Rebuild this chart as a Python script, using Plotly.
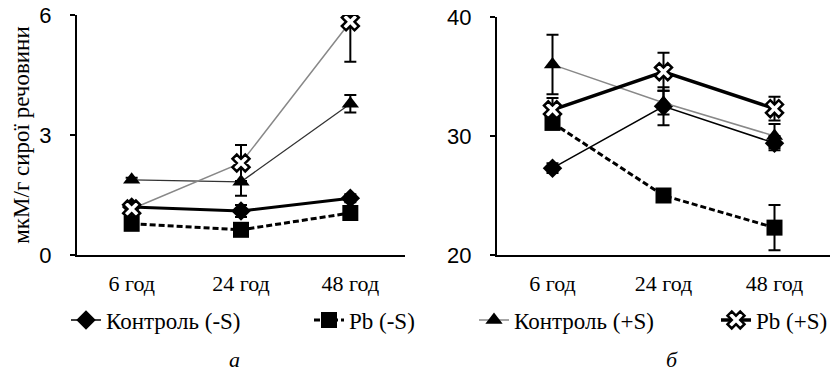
import plotly.graph_objects as go

times = ["6 год", "24 год", "48 год"]
names = ["Контроль (-S)", "Pb (-S)", "Контроль (+S)", "Pb (+S)"]

# panel а (mkM/g)
a_ctrl_minus = [1.2, 1.1, 1.42]
a_ctrl_minus_err = [0.1, 0.15, 0.1]
a_pb_minus = [0.78, 0.63, 1.05]
a_pb_minus_err = [0.08, 0.08, 0.1]
a_ctrl_plus = [1.88, 1.83, 3.78]
a_ctrl_plus_err = [0.05, 0.35, 0.22]
a_pb_plus = [1.15, 2.3, 5.83]
a_pb_plus_err = [0.1, 0.45, 1.0]

# panel б
b_ctrl_minus = [27.3, 32.5, 29.4]
b_ctrl_minus_err = [0.4, 1.6, 0.6]
b_pb_minus = [31.1, 25.0, 22.3]
b_pb_minus_err = [0.5, 0.3, 1.9]
b_ctrl_plus = [36.0, 32.8, 30.0]
b_ctrl_plus_err = [2.5, 1.0, 1.0]
b_pb_plus = [32.2, 35.4, 32.3]
b_pb_plus_err = [1.0, 1.6, 1.0]

W, H = 830, 379
SERIF = "Liberation Serif"
SANS = "Liberation Sans"

markers = [
    dict(symbol="diamond", size=15, color="black"),
    dict(symbol="square", size=16, color="black"),
    dict(symbol="triangle-up", size=15, color="black"),
    dict(symbol="x", size=15, color="white", line=dict(color="black", width=2.5)),
]

# line styles: panel a and panel b (legend follows panel b)
lines_a = [
    dict(color="black", width=3),
    dict(color="black", width=3, dash="6px,3px"),
    dict(color="#333333", width=1.3),
    dict(color="#888888", width=1.5),
]
lines_b = [
    dict(color="black", width=1.5),
    dict(color="black", width=3, dash="6px,3px"),
    dict(color="#888888", width=1.5),
    dict(color="black", width=3.5),
]

data_a = [(a_ctrl_minus, a_ctrl_minus_err), (a_pb_minus, a_pb_minus_err),
          (a_ctrl_plus, a_ctrl_plus_err), (a_pb_plus, a_pb_plus_err)]
data_b = [(b_ctrl_minus, b_ctrl_minus_err), (b_pb_minus, b_pb_minus_err),
          (b_ctrl_plus, b_ctrl_plus_err), (b_pb_plus, b_pb_plus_err)]

fig = go.Figure()
legends = ["legend", "legend2", "legend3", "legend4"]
for i, (vals, err) in enumerate(data_a):
    fig.add_trace(go.Scatter(
        x=times, y=vals, mode="lines+markers", name=names[i],
        line=lines_a[i], marker=markers[i], showlegend=False,
        error_y=dict(type="data", array=err, color="black", thickness=2, width=6),
        xaxis="x", yaxis="y"))
for i, (vals, err) in enumerate(data_b):
    fig.add_trace(go.Scatter(
        x=times, y=vals, mode="lines+markers", name=names[i],
        line=lines_b[i], marker=markers[i], showlegend=True, legend=legends[i],
        error_y=dict(type="data", array=err, color="black", thickness=2, width=6),
        xaxis="x2", yaxis="y2"))

def px_x(p):
    return p / W

def px_y(p):
    return (H - p) / H

axis_common = dict(showgrid=False, zeroline=False, showline=True, linecolor="black",
                   linewidth=2, automargin=False)
xcommon = dict(type="category", range=[-0.5, 2.5], ticks="", ticklabelstandoff=8,
               tickfont=dict(family=SERIF, size=22, color="black"))
ycommon = dict(ticks="outside", ticklen=5, tickwidth=2, tickcolor="black",
               ticklabelstandoff=14, tickfont=dict(family=SANS, size=22, color="black"))
fig.update_layout(
    width=W, height=H, margin=dict(l=0, r=0, t=0, b=0, autoexpand=False),
    paper_bgcolor="white", plot_bgcolor="white",
    xaxis=dict(domain=[px_x(77), px_x(405)], anchor="y", **xcommon, **axis_common),
    yaxis=dict(domain=[px_y(255), px_y(15)], anchor="x", range=[0, 6], tickvals=[0, 3, 6],
               title=dict(text="мкМ/г сирої речовини", standoff=3,
                          font=dict(family=SERIF, size=23, color="black")),
               **ycommon, **axis_common),
    xaxis2=dict(domain=[px_x(497), 1.0], anchor="y2", **xcommon, **axis_common),
    yaxis2=dict(domain=[px_y(255), px_y(17)], anchor="x2", range=[20, 40], tickvals=[20, 30, 40],
                **ycommon, **axis_common),
)

leg_x = [66, 309, 474, 716]
for lg, lx in zip(legends, leg_x):
    fig.update_layout({lg: dict(x=px_x(lx), y=px_y(320), xanchor="left", yanchor="middle",
                                orientation="h", bgcolor="rgba(0,0,0,0)",
                                font=dict(family=SERIF, size=23, color="black"))})

fig.add_annotation(text="<i>а</i>", x=px_x(234), y=px_y(359), xref="paper", yref="paper",
                   showarrow=False, font=dict(family=SERIF, size=22, color="black"),
                   xanchor="center", yanchor="middle")
fig.add_annotation(text="<i>б</i>", x=px_x(672), y=px_y(359), xref="paper", yref="paper",
                   showarrow=False, font=dict(family=SERIF, size=22, color="black"),
                   xanchor="center", yanchor="middle")

fig.write_html("out.html")
